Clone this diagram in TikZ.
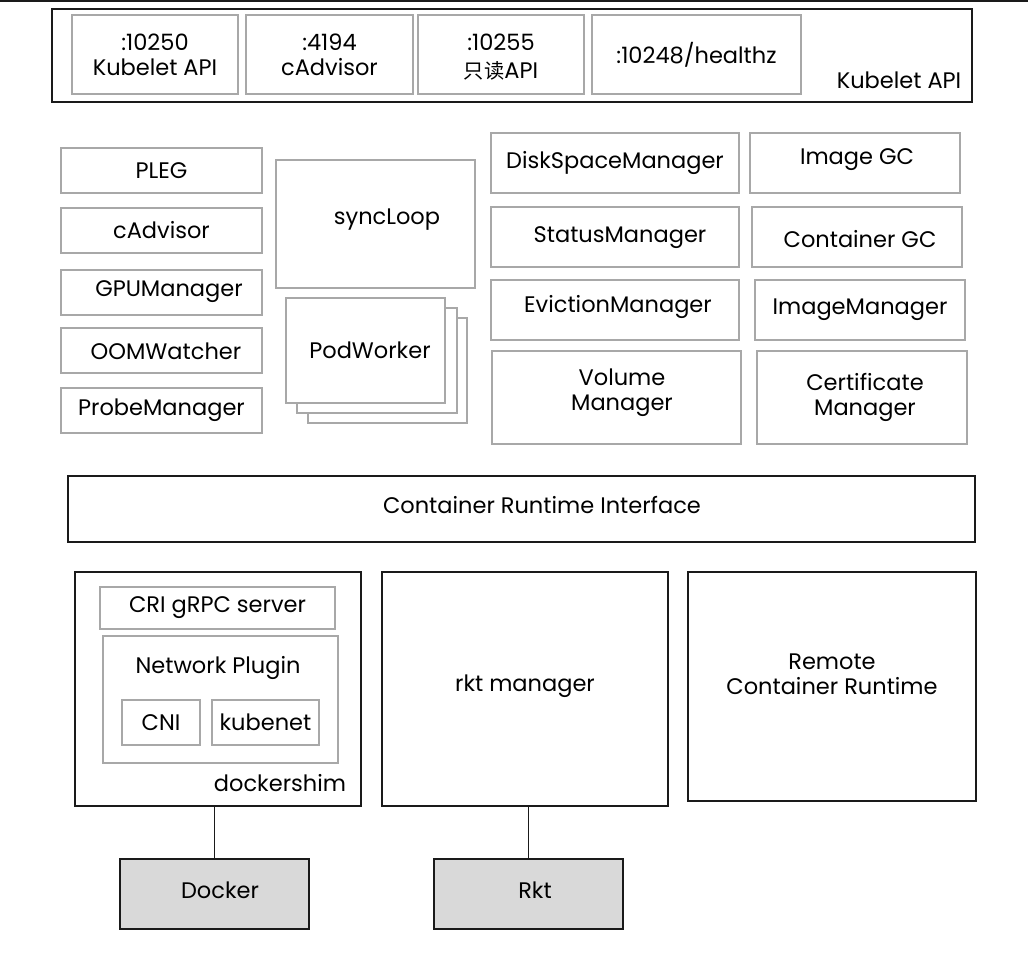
\documentclass[tikz,border=0pt]{standalone}
\usepackage{fontspec}
\setmainfont{Poppins}
\newfontfamily\cjk[Scale=0.9]{Noto Sans CJK SC}
\definecolor{inline}{HTML}{A8A8A8}
\definecolor{outline}{HTML}{1A1A1A}
\definecolor{grayfill}{HTML}{D9D9D9}
\begin{document}
\begin{tikzpicture}[x=1pt,y=-1pt,
  every node/.style={inner sep=0pt,outer sep=0pt,font=\fontsize{22.5}{25}\selectfont,align=center},
  inbox/.style={draw=inline,line width=1.5pt,fill=white},
  outbox/.style={draw=outline,line width=2pt,fill=white},
  gbox/.style={draw=outline,line width=2pt,fill=grayfill},
  lbl/.style={},
  wire/.style={draw=outline,line width=1.5pt}]
\useasboundingbox (0,0) rectangle (1028,970);
\draw[outline,line width=2pt] (0,1) -- (1028,1);
% Kubelet API
\node[outbox,minimum width=920,minimum height=93] (api) at (512,55.5) {};
\node[inbox,minimum width=166,minimum height=79] (p1) at (155,54.5) {:10250\\Kubelet API};
\node[inbox,minimum width=167,minimum height=79] (p2) at (329.5,54.5) {:4194\\cAdvisor};
\node[inbox,minimum width=166,minimum height=79] (p3) at (501,54.5) {};
\node[lbl,anchor=base] (p3a) at (501,50) {:10255};
\node[lbl,anchor=base] (p3b) at (501,78) {{\cjk 只读}API};
\node[inbox,minimum width=209,minimum height=79] (p4) at (696.5,54.5) {:10248/healthz};
\node[lbl] (apilbl) at (899,80) {Kubelet API};
% left column
\node[inbox,minimum width=201,minimum height=45] (pleg) at (161.5,170.5) {PLEG};
\node[inbox,minimum width=201,minimum height=45] (cadv) at (161.5,230.5) {cAdvisor};
\node[inbox,minimum width=201,minimum height=45] (gpu) at (161.5,292.5) {};
\node[lbl] (gpulbl) at (169,292) {GPUManager};
\node[inbox,minimum width=201,minimum height=45] (oom) at (161.5,350.5) {};
\node[lbl] (oomlbl) at (166,351) {OOMWatcher};
\node[inbox,minimum width=201,minimum height=45] (probe) at (161.5,410.5) {ProbeManager};
% syncLoop and PodWorker
\node[inbox,minimum width=199,minimum height=128] (sync) at (375.5,224) {};
\node[lbl] (synclbl) at (387,220) {syncLoop};
\node[inbox,minimum width=159,minimum height=105] (pw3) at (387.5,370.5) {};
\node[inbox,minimum width=160,minimum height=105] (pw2) at (377,360.5) {};
\node[inbox,minimum width=159,minimum height=105] (pw1) at (365.5,350.5) {};
\node[lbl] (pwlbl) at (370,350) {PodWorker};
% right columns
\node[inbox,minimum width=248,minimum height=60] (disk) at (615,163) {DiskSpaceManager};
\node[inbox,minimum width=248,minimum height=60] (status) at (615,237) {};
\node[lbl] (statuslbl) at (620,238) {StatusManager};
\node[inbox,minimum width=248,minimum height=60] (evict) at (615,310) {};
\node[lbl] (evictlbl) at (618,307) {EvictionManager};
\node[inbox,minimum width=249,minimum height=93] (volume) at (616.5,397.5) {};
\node[lbl] (vollbl) at (622,393) {Volume\\Manager};
\node[inbox,minimum width=210,minimum height=60] (imggc) at (855,163) {};
\node[lbl] (imggclbl) at (857,160) {Image GC};
\node[inbox,minimum width=210,minimum height=60] (ctrgc) at (857,237) {};
\node[lbl] (ctrgclbl) at (860,239) {Container GC};
\node[inbox,minimum width=210,minimum height=60] (imgmgr) at (860,310) {ImageManager};
\node[inbox,minimum width=210,minimum height=93] (cert) at (862,397.5) {};
\node[lbl] (certlbl) at (865,397) {Certificate\\Manager};
% CRI
\node[outbox,minimum width=907,minimum height=66] (cri) at (521.5,509) {};
\node[lbl] (crilbl) at (542,505) {Container Runtime Interface};
% dockershim
\node[outbox,minimum width=286,minimum height=234] (ds) at (218,689) {};
\node[inbox,minimum width=235,minimum height=42] (grpc) at (217.5,608) {CRI gRPC server};
\node[inbox,minimum width=235,minimum height=127] (np) at (220.5,699.5) {};
\node[lbl] (nplbl) at (218,668) {Network Plugin};
\node[inbox,minimum width=78,minimum height=45] (cni) at (161,722.5) {CNI};
\node[inbox,minimum width=107,minimum height=45] (kubenet) at (265.5,722.5) {kubenet};
\node[lbl,anchor=east] (dslbl) at (346,783) {dockershim};
% rkt and remote
\node[outbox,minimum width=286,minimum height=234] (rkt) at (525,689) {};
\node[lbl] (rktlbl) at (525,686) {rkt manager};
\node[outbox,minimum width=288,minimum height=229] (remote) at (832,686) {};
\node[lbl] (remotelbl) at (832,674) {Remote\\Container Runtime};
% runtimes
\node[gbox,minimum width=189,minimum height=70] (docker) at (214.5,894) {};
\node[lbl] (dockerlbl) at (220,890) {Docker};
\node[gbox,minimum width=189,minimum height=70] (rktrt) at (528.5,894) {};
\node[lbl] (rktrtlbl) at (535,890) {Rkt};
\draw[wire] (docker.north) -- (docker.north |- ds.south);
\draw[wire] (rktrt.north) -- (rktrt.north |- rkt.south);
\end{tikzpicture}
\end{document}
